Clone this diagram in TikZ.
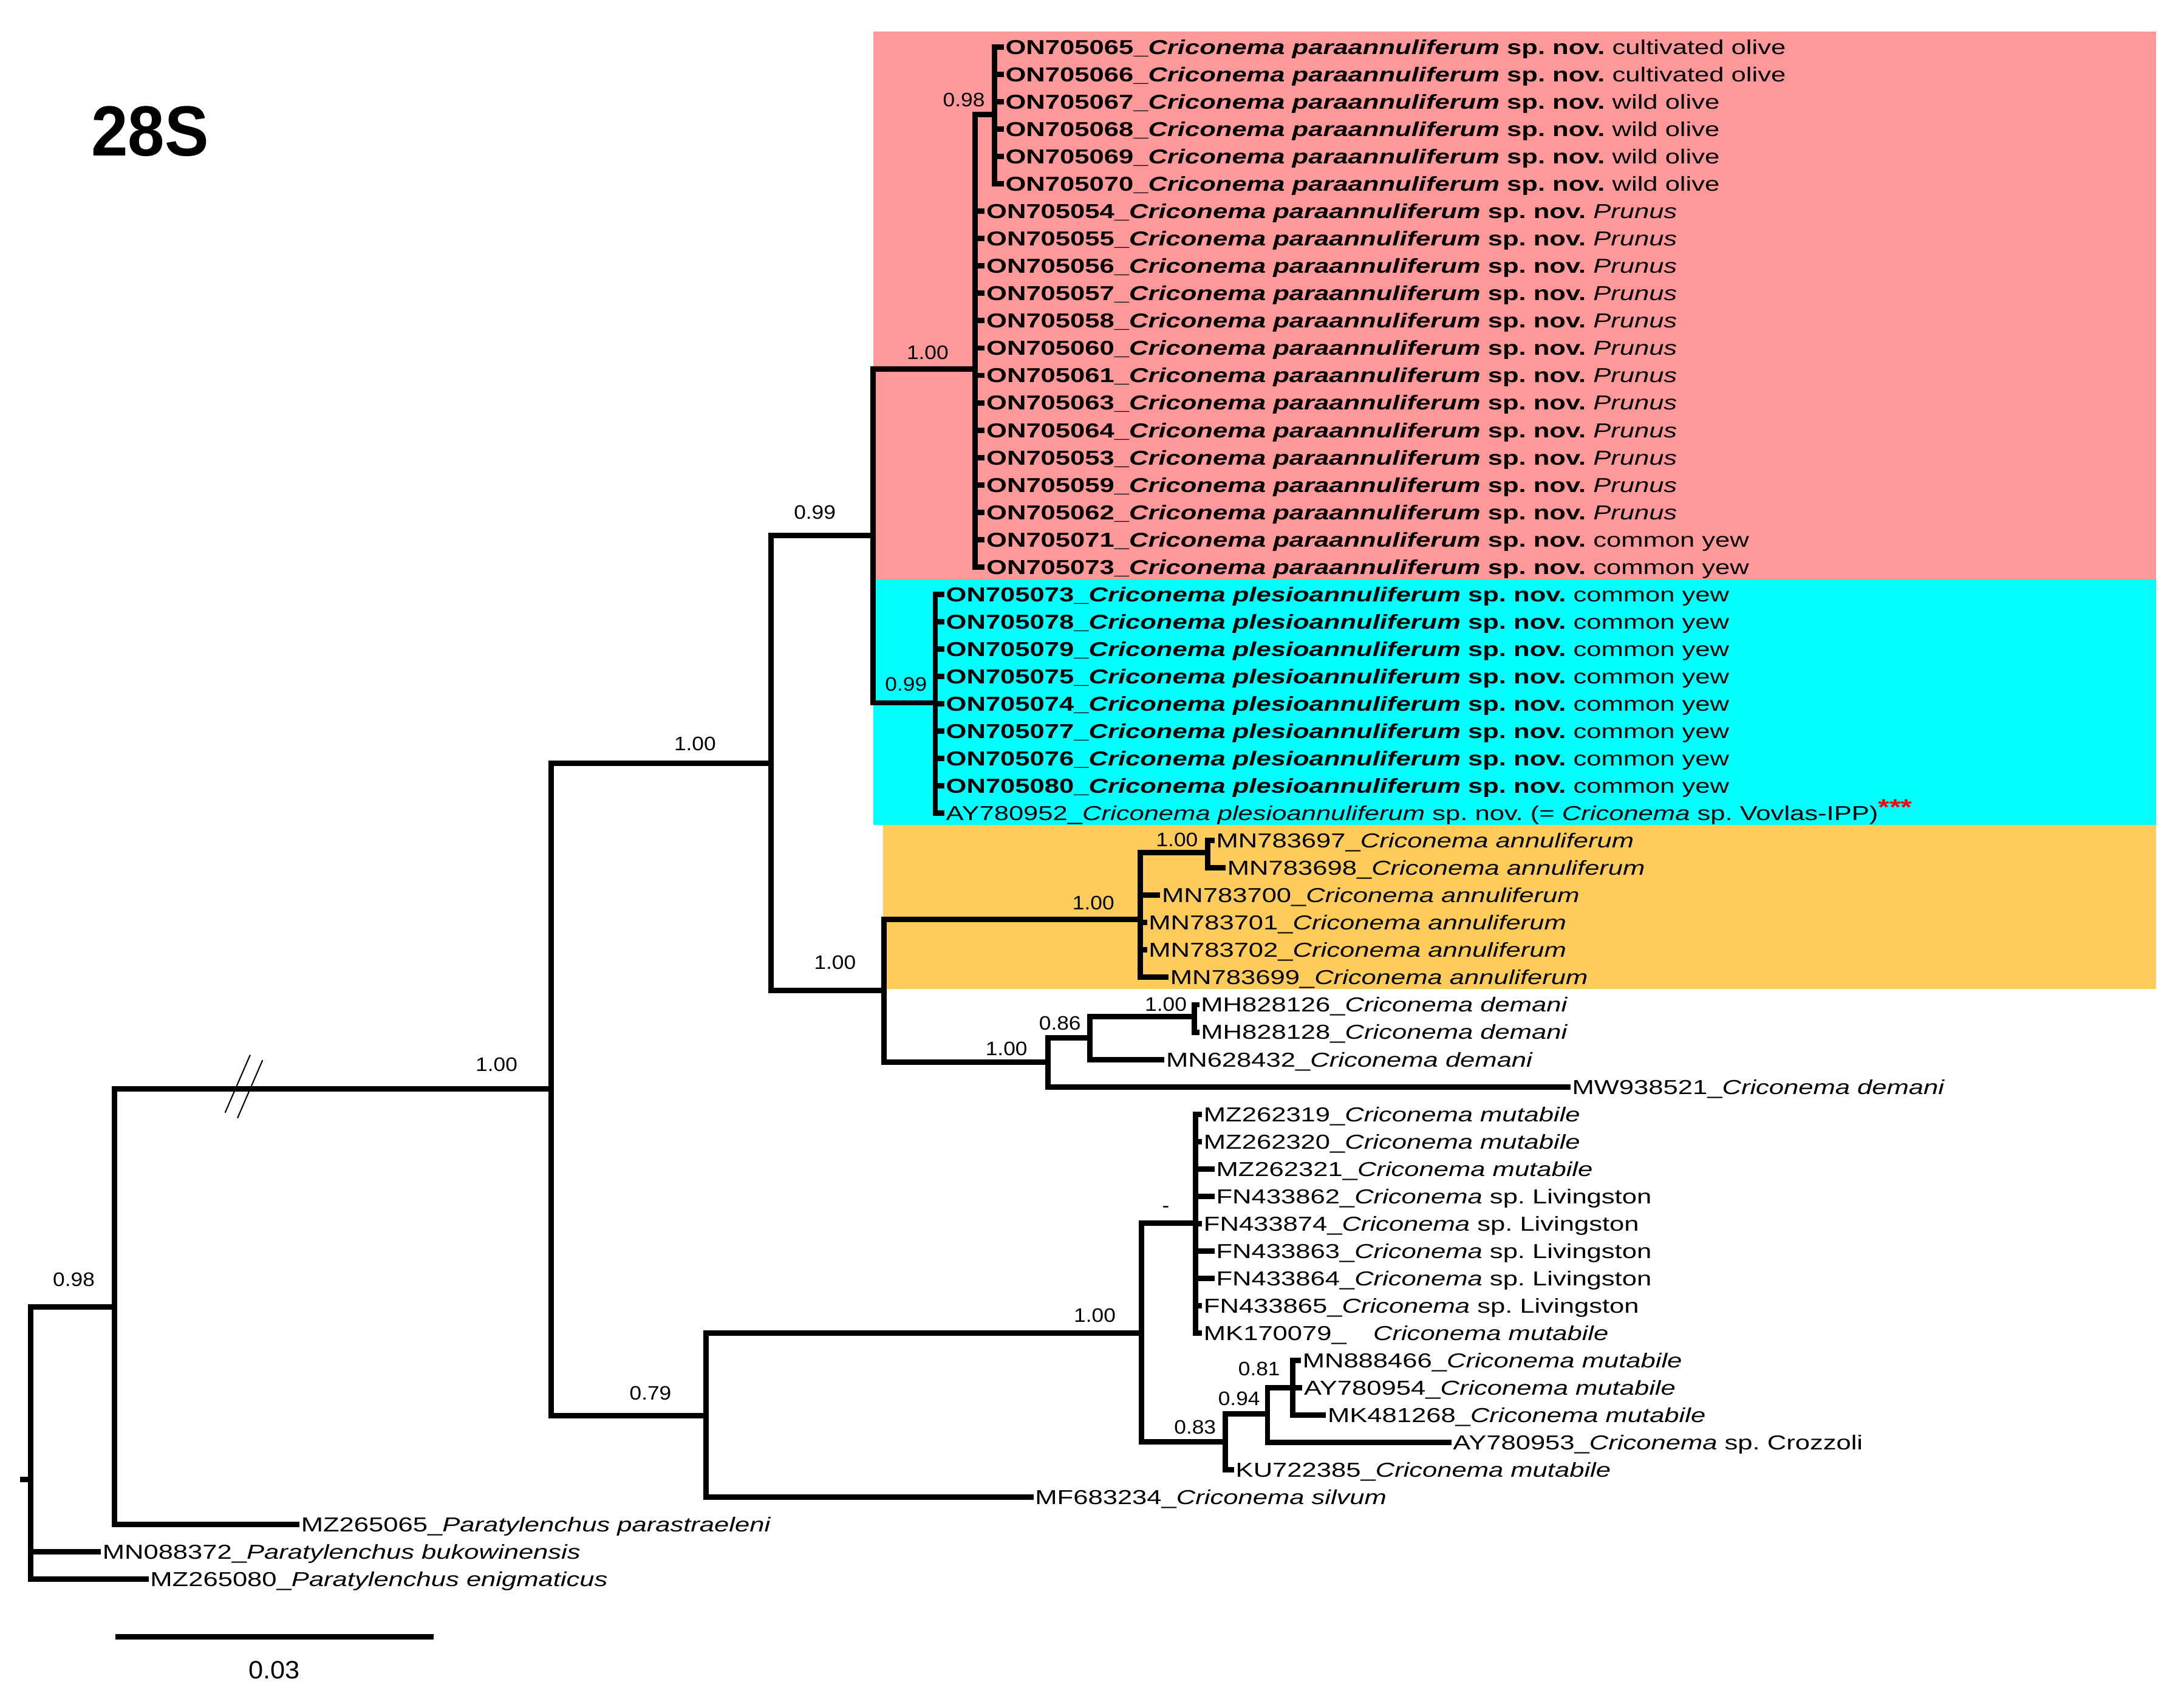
\documentclass[tikz,border=0pt]{standalone}
\usepackage{fontspec}
\setmainfont{Liberation Sans}
\newfontfamily\leaffont{Liberation Sans}[FakeStretch=1.31]
\newfontfamily\supportfont{Liberation Sans}[FakeStretch=1.1]
\newfontfamily\barfont{Liberation Sans}[FakeStretch=1.05]
\newfontfamily\genefont{Liberation Sans}[FakeStretch=0.93]

\definecolor{paracol}{HTML}{FF9999}
\definecolor{plesiocol}{HTML}{00FFFF}
\definecolor{annulcol}{HTML}{FFCC5C}

\newcommand{\paraleaf}[1]{\textbf{#1\_\textit{Criconema paraannuliferum} sp. nov.}}
\newcommand{\plesioleaf}[1]{\textbf{#1\_\textit{Criconema plesioannuliferum} sp. nov.}}
\newcommand{\crico}[2]{#1\_\textit{Criconema #2}}
\newcommand{\rowy}[1]{33.8+19.64*(#1-1)}

\tikzset{
  branch/.style={line width=3.9pt, line cap=rect},
  leaf/.style={anchor=west, inner xsep=3pt, inner ysep=0pt, text height=10.4pt, text depth=0pt,
    font=\leaffont\fontsize{14.5}{14.5}\selectfont},
  support/.style={inner sep=0pt, font=\supportfont\fontsize{14}{14}\selectfont},
}

\begin{document}
\frenchspacing
\begin{tikzpicture}[x=1pt,y=-1pt]

    \useasboundingbox (0,0) rectangle (1568,1215);

    % Clade backgrounds
    \fill[paracol] (627,22.5) rectangle (1548,416);
    \fill[plesiocol] (627,416) rectangle (1548,592);
    \fill[annulcol] (634,592) rectangle (1548,710);

    % Gene label
    \node[anchor=base west, inner sep=0pt, font=\genefont\fontsize{51}{51}\selectfont\bfseries] (gene) at (65.4,112) {28S};

    % Internal nodes
    \coordinate (rootstub) at (16.5,1062);
    \coordinate (root) at (22,1062);
    \coordinate (nO) at (82,938.3);
    \coordinate (nI) at (395.5,781.5);
    \coordinate (nA) at (553.5,548);
    \coordinate (nB) at (507,1016);
    \coordinate (nC) at (627,384.5);
    \coordinate (nD) at (634.5,711);
    \coordinate (nP) at (700,265);
    \coordinate (nPs) at (714,82);
    \coordinate (nQ) at (671.5,504.5);
    \coordinate (nR) at (818.5,660);
    \coordinate (nRs) at (867,612);
    \coordinate (nS) at (752.5,762.5);
    \coordinate (nT) at (782.5,745);
    \coordinate (nTs) at (857.5,729.5);
    \coordinate (nM) at (819.5,957);
    \coordinate (nL) at (858.5,878);
    \coordinate (nK) at (879.5,1035);
    \coordinate (nJ) at (910,1015);
    \coordinate (nH) at (928,996);

    % Criconema paraannuliferum
    \node[leaf] (para01) at (718.7,{\rowy{1}}) {\paraleaf{ON705065} cultivated olive};
    \node[leaf] (para02) at (718.7,{\rowy{2}}) {\paraleaf{ON705066} cultivated olive};
    \node[leaf] (para03) at (718.7,{\rowy{3}}) {\paraleaf{ON705067} wild olive};
    \node[leaf] (para04) at (718.7,{\rowy{4}}) {\paraleaf{ON705068} wild olive};
    \node[leaf] (para05) at (718.7,{\rowy{5}}) {\paraleaf{ON705069} wild olive};
    \node[leaf] (para06) at (718.7,{\rowy{6}}) {\paraleaf{ON705070} wild olive};
    \node[leaf] (para07) at (705,{\rowy{7}}) {\paraleaf{ON705054} \textit{Prunus}};
    \node[leaf] (para08) at (705,{\rowy{8}}) {\paraleaf{ON705055} \textit{Prunus}};
    \node[leaf] (para09) at (705,{\rowy{9}}) {\paraleaf{ON705056} \textit{Prunus}};
    \node[leaf] (para10) at (705,{\rowy{10}}) {\paraleaf{ON705057} \textit{Prunus}};
    \node[leaf] (para11) at (705,{\rowy{11}}) {\paraleaf{ON705058} \textit{Prunus}};
    \node[leaf] (para12) at (705,{\rowy{12}}) {\paraleaf{ON705060} \textit{Prunus}};
    \node[leaf] (para13) at (705,{\rowy{13}}) {\paraleaf{ON705061} \textit{Prunus}};
    \node[leaf] (para14) at (705,{\rowy{14}}) {\paraleaf{ON705063} \textit{Prunus}};
    \node[leaf] (para15) at (705,{\rowy{15}}) {\paraleaf{ON705064} \textit{Prunus}};
    \node[leaf] (para16) at (705,{\rowy{16}}) {\paraleaf{ON705053} \textit{Prunus}};
    \node[leaf] (para17) at (705,{\rowy{17}}) {\paraleaf{ON705059} \textit{Prunus}};
    \node[leaf] (para18) at (705,{\rowy{18}}) {\paraleaf{ON705062} \textit{Prunus}};
    \node[leaf] (para19) at (705,{\rowy{19}}) {\paraleaf{ON705071} common yew};
    \node[leaf] (para20) at (705,{\rowy{20}}) {\paraleaf{ON705073} common yew};

    % Criconema plesioannuliferum
    \node[leaf] (plesio1) at (676,{\rowy{21}}) {\plesioleaf{ON705073} common yew};
    \node[leaf] (plesio2) at (676,{\rowy{22}}) {\plesioleaf{ON705078} common yew};
    \node[leaf] (plesio3) at (676,{\rowy{23}}) {\plesioleaf{ON705079} common yew};
    \node[leaf] (plesio4) at (676,{\rowy{24}}) {\plesioleaf{ON705075} common yew};
    \node[leaf] (plesio5) at (676,{\rowy{25}}) {\plesioleaf{ON705074} common yew};
    \node[leaf] (plesio6) at (676,{\rowy{26}}) {\plesioleaf{ON705077} common yew};
    \node[leaf] (plesio7) at (676,{\rowy{27}}) {\plesioleaf{ON705076} common yew};
    \node[leaf] (plesio8) at (676,{\rowy{28}}) {\plesioleaf{ON705080} common yew};
    \node[leaf] (plesio9) at (676,{\rowy{29}}) {AY780952\_\textit{Criconema plesioannuliferum} sp. nov. (= \textit{Criconema} sp. Vovlas-IPP)\textcolor{red}{\raisebox{4pt}{\fontsize{16}{16}\selectfont\bfseries ***}}};

    % Criconema annuliferum
    \node[leaf] (annul1) at (870,{\rowy{30}}) {\crico{MN783697}{annuliferum}};
    \node[leaf] (annul2) at (878,{\rowy{31}}) {\crico{MN783698}{annuliferum}};
    \node[leaf] (annul3) at (831,{\rowy{32}}) {\crico{MN783700}{annuliferum}};
    \node[leaf] (annul4) at (821.5,{\rowy{33}}) {\crico{MN783701}{annuliferum}};
    \node[leaf] (annul5) at (821.5,{\rowy{34}}) {\crico{MN783702}{annuliferum}};
    \node[leaf] (annul6) at (837,{\rowy{35}}) {\crico{MN783699}{annuliferum}};

    % Criconema demani
    \node[leaf] (demani1) at (859,{\rowy{36}}) {\crico{MH828126}{demani}};
    \node[leaf] (demani2) at (859,{\rowy{37}}) {\crico{MH828128}{demani}};
    \node[leaf] (demani3) at (834,{\rowy{38}}) {\crico{MN628432}{demani}};
    \node[leaf] (demani4) at (1125.5,{\rowy{39}}) {\crico{MW938521}{demani}};

    % Criconema mutabile and relatives
    \node[leaf] (mut01) at (861,{\rowy{40}}) {\crico{MZ262319}{mutabile}};
    \node[leaf] (mut02) at (861,{\rowy{41}}) {\crico{MZ262320}{mutabile}};
    \node[leaf] (mut03) at (870,{\rowy{42}}) {\crico{MZ262321}{mutabile}};
    \node[leaf] (mut04) at (870,{\rowy{43}}) {FN433862\_\textit{Criconema} sp. Livingston};
    \node[leaf] (mut05) at (861,{\rowy{44}}) {FN433874\_\textit{Criconema} sp. Livingston};
    \node[leaf] (mut06) at (870,{\rowy{45}}) {FN433863\_\textit{Criconema} sp. Livingston};
    \node[leaf] (mut07) at (870,{\rowy{46}}) {FN433864\_\textit{Criconema} sp. Livingston};
    \node[leaf] (mut08) at (861,{\rowy{47}}) {FN433865\_\textit{Criconema} sp. Livingston};
    \node[leaf] (mut09) at (861,{\rowy{48}}) {MK170079\_\hspace*{14pt} \textit{Criconema mutabile}};
    \node[leaf] (mut10) at (932,{\rowy{49}}) {\crico{MN888466}{mutabile}};
    \node[leaf] (mut11) at (933,{\rowy{50}}) {\crico{AY780954}{mutabile}};
    \node[leaf] (mut12) at (950,{\rowy{51}}) {\crico{MK481268}{mutabile}};
    \node[leaf] (mut13) at (1040,{\rowy{52}}) {AY780953\_\textit{Criconema} sp. Crozzoli};
    \node[leaf] (mut14) at (884,{\rowy{53}}) {\crico{KU722385}{mutabile}};
    \node[leaf] (silvum) at (740,{\rowy{54}}) {\crico{MF683234}{silvum}};

    % Outgroup
    \node[leaf] (outg1) at (213,{\rowy{55}}) {MZ265065\_\textit{Paratylenchus parastraeleni}};
    \node[leaf] (outg2) at (70.4,{\rowy{56}}) {MN088372\_\textit{Paratylenchus bukowinensis}};
    \node[leaf] (outg3) at (104.7,{\rowy{57}}) {MZ265080\_\textit{Paratylenchus enigmaticus}};

    % Backbone
    \draw[branch] (rootstub) -- (root);
    \draw[branch] (root) |- (nO);
    \draw[branch] (root) |- (outg2.west);
    \draw[branch] (root) |- (outg3.west);
    \draw[branch] (nO) |- (nI);
    \draw[branch] (nO) |- (outg1.west);
    \draw[branch] (nI) |- (nA);
    \draw[branch] (nI) |- (nB);
    \draw[branch] (nA) |- (nC);
    \draw[branch] (nA) |- (nD);
    \draw[branch] (nC) |- (nP);
    \draw[branch] (nC) |- (nQ);
    \draw[branch] (nD) |- (nR);
    \draw[branch] (nD) |- (nS);
    \draw[branch] (nB) |- (nM);
    \draw[branch] (nB) |- (silvum.west);

    %% Break on the long branch
    \draw[line width=0.9pt] (161.6,798.7) -- (179.6,757.2);
    \draw[line width=0.9pt] (170.5,802.6) -- (188.5,761);

    %% paraannuliferum
    \draw[branch] (nP) |- (nPs);
    \draw[branch] (nPs) |- (para01.west);
    \draw[branch] (nPs) |- (para02.west);
    \draw[branch] (nPs) |- (para03.west);
    \draw[branch] (nPs) |- (para04.west);
    \draw[branch] (nPs) |- (para05.west);
    \draw[branch] (nPs) |- (para06.west);
    \draw[branch] (nP) |- (para07.west);
    \draw[branch] (nP) |- (para08.west);
    \draw[branch] (nP) |- (para09.west);
    \draw[branch] (nP) |- (para10.west);
    \draw[branch] (nP) |- (para11.west);
    \draw[branch] (nP) |- (para12.west);
    \draw[branch] (nP) |- (para13.west);
    \draw[branch] (nP) |- (para14.west);
    \draw[branch] (nP) |- (para15.west);
    \draw[branch] (nP) |- (para16.west);
    \draw[branch] (nP) |- (para17.west);
    \draw[branch] (nP) |- (para18.west);
    \draw[branch] (nP) |- (para19.west);
    \draw[branch] (nP) |- (para20.west);

    %% plesioannuliferum
    \draw[branch] (nQ) |- (plesio1.west);
    \draw[branch] (nQ) |- (plesio2.west);
    \draw[branch] (nQ) |- (plesio3.west);
    \draw[branch] (nQ) |- (plesio4.west);
    \draw[branch] (nQ) |- (plesio5.west);
    \draw[branch] (nQ) |- (plesio6.west);
    \draw[branch] (nQ) |- (plesio7.west);
    \draw[branch] (nQ) |- (plesio8.west);
    \draw[branch] (nQ) |- (plesio9.west);

    %% annuliferum
    \draw[branch] (nR) |- (nRs);
    \draw[branch] (nRs) |- (annul1.west);
    \draw[branch] (nRs) |- (annul2.west);
    \draw[branch] (nR) |- (annul3.west);
    \draw[branch] (nR) |- (annul4.west);
    \draw[branch] (nR) |- (annul5.west);
    \draw[branch] (nR) |- (annul6.west);

    %% demani
    \draw[branch] (nS) |- (nT);
    \draw[branch] (nS) |- (demani4.west);
    \draw[branch] (nT) |- (nTs);
    \draw[branch] (nT) |- (demani3.west);
    \draw[branch] (nTs) |- (demani1.west);
    \draw[branch] (nTs) |- (demani2.west);

    %% mutabile
    \draw[branch] (nM) |- (nL);
    \draw[branch] (nM) |- (nK);
    \draw[branch] (nL) |- (mut01.west);
    \draw[branch] (nL) |- (mut02.west);
    \draw[branch] (nL) |- (mut03.west);
    \draw[branch] (nL) |- (mut04.west);
    \draw[branch] (nL) |- (mut05.west);
    \draw[branch] (nL) |- (mut06.west);
    \draw[branch] (nL) |- (mut07.west);
    \draw[branch] (nL) |- (mut08.west);
    \draw[branch] (nL) |- (mut09.west);
    \draw[branch] (nK) |- (nJ);
    \draw[branch] (nK) |- (mut14.west);
    \draw[branch] (nJ) |- (nH);
    \draw[branch] (nJ) |- (mut13.west);
    \draw[branch] (nH) |- (mut10.west);
    \draw[branch] (nH) |- (mut11.west);
    \draw[branch] (nH) |- (mut12.west);

    % Posterior probabilities
    \node[support] (pp01) at (53,918.5) {0.98};
    \node[support] (pp02) at (356.5,764) {1.00};
    \node[support] (pp03) at (499,534) {1.00};
    \node[support] (pp04) at (467,1000) {0.79};
    \node[support] (pp05) at (585,367.6) {0.99};
    \node[support] (pp06) at (599.5,691) {1.00};
    \node[support] (pp07) at (666,253) {1.00};
    \node[support] (pp08) at (692,71.5) {0.98};
    \node[support] (pp09) at (650.5,491) {0.99};
    \node[support] (pp10) at (785,648) {1.00};
    \node[support] (pp11) at (845,603) {1.00};
    \node[support] (pp12) at (722.6,753) {1.00};
    \node[support] (pp13) at (761,734.6) {0.86};
    \node[support] (pp14) at (837,721) {1.00};
    \node[support] (pp15) at (786,944) {1.00};
    \node[support] (pp16) at (837,868) {-};
    \node[support] (pp17) at (858,1024.5) {0.83};
    \node[support] (pp18) at (889.6,1004) {0.94};
    \node[support] (pp19) at (904,982.6) {0.81};

    % Scale bar
    \coordinate (bar1) at (83,1175);
    \coordinate (bar2) at (311.5,1175);
    \draw[line width=3.9pt] (bar1) -- (bar2);
    \node[inner sep=0pt, font=\barfont\fontsize{18}{18}\selectfont] (barlabel) at (197,1199) {0.03};

\end{tikzpicture}
\end{document}
